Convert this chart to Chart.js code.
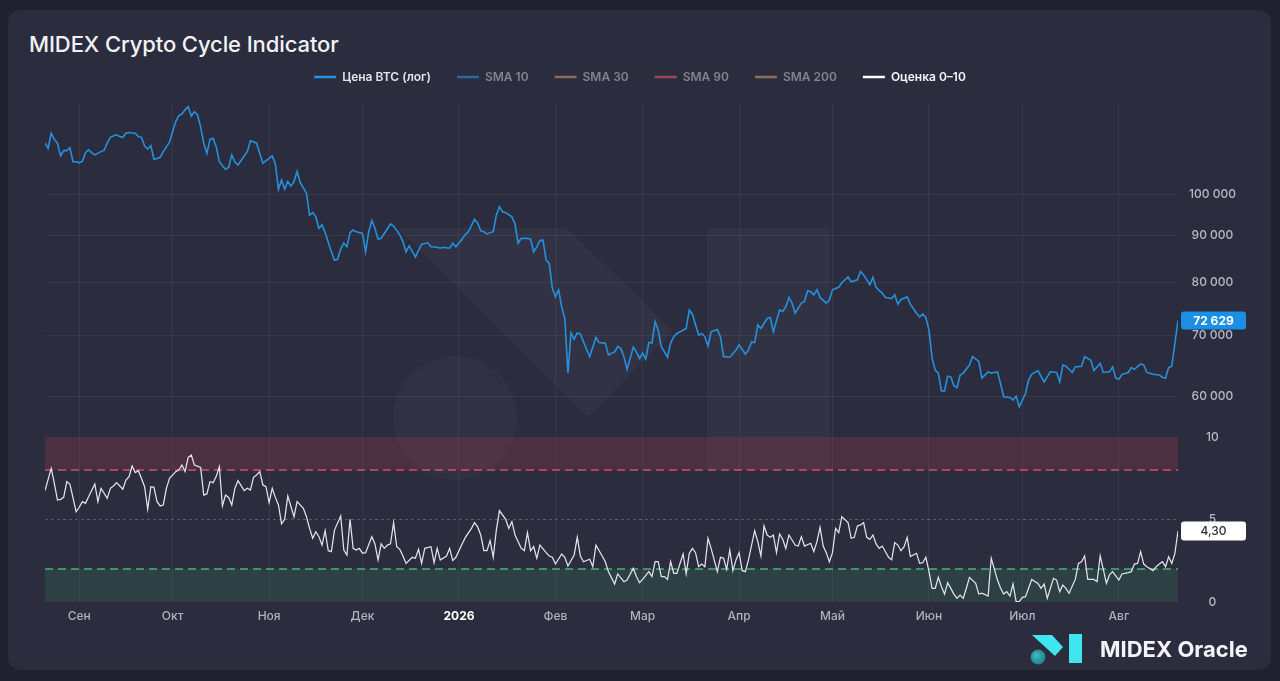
<!DOCTYPE html>
<html>
<head>
<meta charset="utf-8">
<script src="https://cdn.jsdelivr.net/npm/chart.js@4.4.1/dist/chart.umd.min.js"></script>
<style>
  html, body { margin:0; padding:0; width:1280px; height:681px; overflow:hidden; background:#1f212e; font-family: Inter, "Noto Sans", sans-serif; }
  #card { position:absolute; left:8px; top:10px; width:1263px; height:660px; border-radius:12px; background:#2b2d3e; }
  #title { position:absolute; left:29px; top:29px; font-size:22px; font-weight:500; color:#f1f2f6; line-height:30px; letter-spacing:-0.1px; }
  #brand { position:absolute; left:1100px; top:634px; font-size:22px; font-weight:700; color:#f3f4f7; line-height:30px; }
  canvas { position:absolute; left:0; top:0; }
</style>
</head>
<body>
<div id="card"></div>
<div id="title">MIDEX Crypto Cycle Indicator</div>
<canvas id="c" width="1280" height="681" style="width:1280px;height:681px"></canvas>
<div id="brand">MIDEX Oracle</div>
<script>
// ---------- DATA ----------
const startDate = '2025-08-21'; // day 0
const monthTickDays   = [11, 41, 72, 102, 133, 164, 192, 223, 253, 284, 314, 345];
const monthTickLabels = ['Сен', 'Окт', 'Ноя', 'Дек', '2026', 'Фев', 'Мар', 'Апр', 'Май', 'Июн', 'Июл', 'Авг'];
const priceTicks = [60000, 70000, 80000, 90000, 100000];
const scoreTicks = [0, 5, 10];
const highZone = [8, 10];
const lowZone = [0, 2];
const midLevel = 5;
const legendNames = ['Цена BTC (лог)', 'SMA 10', 'SMA 30', 'SMA 90', 'SMA 200', 'Оценка 0–10'];

const priceDays = [
  0,1,2,3,4,5,6,7,8,9,10,11,12,13,14,15,16,18,19,20,
  21,23,24,25,26,27,29,30,31,32,33,34,35,36,37,38,40,41,42,43,
  44,45,46,47,48,49,50,51,52,53,54,55,56,58,59,60,61,62,64,65,
  66,68,69,70,72,73,74,75,76,77,78,79,80,81,82,84,85,86,87,88,
  89,90,92,93,94,95,96,97,98,99,100,102,103,104,105,106,107,108,109,111,
  112,114,115,116,117,119,121,123,124,126,127,128,130,131,132,134,135,136,138,139,
  140,141,142,144,145,146,147,148,150,151,152,153,155,156,157,158,159,160,161,162,
  163,164,165,166,167,168,169,170,171,172,174,175,177,178,180,181,183,184,185,186,
  187,189,190,191,192,193,194,195,196,197,198,200,201,202,203,206,207,208,210,211,
  212,213,214,216,217,218,220,222,223,225,226,227,228,229,230,232,233,234,236,237,
  238,239,240,241,243,244,245,246,247,248,249,251,252,253,255,256,258,259,261,262,
  263,265,266,267,269,270,272,273,274,275,277,278,280,281,282,283,284,285,286,287,
  288,289,290,291,292,293,294,295,297,298,300,301,303,304,306,307,308,310,311,312,
  313,315,316,317,319,321,323,325,326,327,328,330,331,333,334,336,337,339,340,342,
  343,344,345,346,348,349,350,352,353,354,356,358,359,360,361,362,364
];
const priceValues = [
  113800,112200,116600,114800,113700,110100,111600,111600,112400,108500,108500,108200,108600,111000,111800,111000,110400,111300,111700,113800,
  115400,116200,115600,115400,116600,116800,116600,115600,115400,112900,112000,113000,109200,109400,109700,111300,114000,117100,120100,121900,
  122400,123700,124700,121800,123100,122100,118500,113700,110800,114800,115100,112700,108500,106400,107000,110400,108500,107600,110100,111300,
  114400,113700,110800,108100,109400,110100,107900,101200,103600,101200,103200,102000,103200,105900,102900,100200,94800,95400,94400,91700,
  92500,90700,86400,84600,84800,87000,88300,87500,90700,91300,90900,90500,86400,90900,93500,91700,89200,89400,90500,92700,
  92200,90200,88600,86400,87700,85300,88100,88400,87500,87400,87200,87400,87200,88300,87500,89200,90200,90900,93800,92900,
  91100,90900,90400,90900,94800,96800,95600,95400,94400,92700,88300,89400,89400,89200,86400,87500,88900,89000,84600,83900,
  78800,77100,78500,75200,73000,63600,70400,69300,70400,70200,67500,66300,69600,68700,68600,66600,67100,68000,67700,66300,
  64200,67900,67100,66000,66900,65900,68700,68600,72400,70900,68000,66200,68600,69700,70300,71200,74600,73800,70000,70300,
  69700,68100,70600,71000,69700,66300,66200,67400,68300,66700,67400,68800,68700,71800,71200,73000,73200,70600,74600,74300,
  75200,77000,75900,74000,75900,76200,78300,78100,77500,78500,77000,75900,76500,78500,79000,79900,81100,80100,80500,82200,
  81500,79500,81000,79000,77800,77000,76800,77500,75700,76600,77100,75700,74000,73300,73800,73200,70900,66000,64100,63600,
  60800,60800,63100,63000,61600,61300,63300,63600,64900,66300,65500,62800,63800,63600,63800,61900,59900,59800,59400,60000,
  58400,60400,62500,63400,64000,62200,63800,63700,62200,64900,64700,63700,64600,64700,66300,65700,64000,65200,63700,63800,
  64600,62800,62600,63400,63700,64500,64200,65100,64900,63700,63400,63300,62900,62800,64500,64700,72629
];

const scoreDays = [
  0,2,3,4,5,6,7,8,10,11,12,13,14,16,17,18,20,21,22,23,
  25,26,27,28,29,30,31,32,33,34,35,36,37,38,39,40,42,43,44,45,
  46,47,48,50,51,52,53,54,55,56,57,58,59,60,61,62,64,65,66,67,
  68,69,70,71,72,73,74,75,76,77,78,80,81,83,84,85,86,87,88,89,
  90,91,92,93,95,96,97,98,99,100,101,102,103,105,106,107,108,109,110,111,
  112,113,114,115,116,118,119,120,121,122,124,125,126,127,129,130,131,132,134,135,
  137,138,139,140,141,142,143,144,145,146,148,149,150,151,153,154,155,156,157,158,
  159,161,162,163,164,166,167,168,170,171,172,173,175,176,177,179,180,181,183,184,
  186,187,189,190,191,192,194,195,196,197,198,199,200,201,202,203,205,206,207,208,
  209,210,211,212,213,214,216,217,218,219,220,221,222,223,224,225,226,228,229,230,
  231,232,233,234,235,236,237,238,239,241,242,243,244,246,247,248,249,250,251,252,
  253,254,255,256,258,259,260,261,262,263,264,265,266,267,268,269,271,272,273,274,
  275,276,277,278,280,281,282,283,284,285,286,287,288,289,290,292,293,294,295,296,
  297,299,300,301,303,304,306,307,308,309,310,311,312,313,314,315,316,317,319,320,
  321,322,323,324,325,326,327,328,329,331,332,333,334,335,337,338,339,340,341,342,
  343,345,346,348,349,350,351,352,353,354,356,357,358,359,360,361,362,363,364
];
const scoreValues = [
  6.75,8.10,7.19,6.18,6.22,6.34,7.29,7.15,5.47,5.74,6.08,5.98,6.38,7.15,6.08,6.89,6.28,6.89,7.03,7.23,
  6.83,7.39,7.60,8.24,7.84,7.96,7.49,6.99,5.62,6.99,6.95,6.08,5.82,5.88,6.89,7.49,7.90,8.00,8.30,7.90,
  8.77,8.91,8.30,8.16,6.48,6.55,7.29,7.23,7.60,8.20,5.82,6.48,6.34,5.88,6.89,7.35,6.75,6.89,6.79,7.56,
  7.70,7.90,7.09,6.99,6.02,6.89,6.34,5.88,4.73,5.01,6.42,5.17,6.08,5.68,5.17,4.46,3.86,4.26,3.96,3.45,
  4.32,3.11,3.05,4.36,5.21,3.15,2.85,5.01,3.25,3.15,3.25,2.95,2.99,3.96,3.52,2.55,3.52,3.25,3.45,3.52,
  4.81,3.35,3.19,2.79,2.34,2.71,2.65,3.19,2.34,3.25,3.35,2.38,3.25,2.55,2.79,3.25,2.51,2.71,3.52,3.90,
  4.46,4.81,4.55,4.06,3.11,3.11,3.72,2.71,4.36,5.54,5.01,4.46,4.87,4.06,3.25,3.11,4.20,3.11,3.35,2.65,
  3.45,2.99,2.79,2.71,2.30,2.91,2.71,2.18,2.85,3.92,2.79,2.44,2.59,2.14,3.45,2.79,2.44,1.84,1.09,1.70,
  1.23,1.33,2.04,1.54,1.17,1.37,1.84,1.54,2.44,2.44,1.54,1.54,1.37,2.44,1.74,1.74,2.91,1.70,2.95,3.25,
  2.99,2.14,2.30,2.14,3.86,3.25,1.84,2.71,2.65,1.98,3.15,1.90,2.55,2.99,1.90,1.84,2.55,4.32,3.66,2.79,
  4.61,4.06,3.92,4.06,2.99,4.12,3.80,3.25,4.06,3.45,3.39,3.96,3.39,3.56,3.05,3.66,4.53,3.39,2.99,2.44,
  2.99,4.46,4.20,5.17,4.81,3.86,3.92,4.61,4.67,4.81,3.92,3.80,4.06,3.52,3.25,3.39,2.71,2.55,3.60,3.45,
  3.11,3.35,3.92,2.75,2.95,2.34,2.38,2.71,1.84,0.83,0.83,1.49,0.93,0.48,1.17,0.48,0.22,0.42,0.22,0.83,
  1.49,1.13,0.48,0.53,0.36,2.65,1.33,0.83,0.48,0.63,0.36,1.09,0.02,0.02,0.28,0.32,0.83,1.37,1.13,0.83,
  1.09,0.22,0.83,1.43,1.33,0.63,1.03,0.83,0.53,1.37,2.34,2.44,2.79,1.37,1.37,1.23,2.79,1.98,1.13,1.64,
  1.84,1.33,1.70,1.78,1.84,2.30,2.34,3.05,2.30,2.14,1.90,2.14,2.30,2.44,2.14,2.75,2.34,2.95,4.30
];

// ---------- HELPERS ----------
const xy = (days, vals) => days.map((d, i) => ({ x: d, y: vals[i] }));
const firstDay = priceDays[0];
const lastDay = priceDays[priceDays.length - 1];
const flat = v => [{ x: firstDay, y: v }, { x: lastDay, y: v }];
const fmtThousands = v => String(Math.round(v)).replace(/\B(?=(\d{3})+(?!\d))/g, ' ');
const lastPrice = priceValues[priceValues.length - 1];
const lastScore = scoreValues[scoreValues.length - 1];

Chart.defaults.font.family = 'Inter, "Noto Sans", sans-serif';
Chart.defaults.animation = false;

function roundRect(ctx, x, y, w, h, r) {
  ctx.beginPath();
  ctx.moveTo(x + r, y);
  ctx.lineTo(x + w - r, y);
  ctx.quadraticCurveTo(x + w, y, x + w, y + r);
  ctx.lineTo(x + w, y + h - r);
  ctx.quadraticCurveTo(x + w, y + h, x + w - r, y + h);
  ctx.lineTo(x + r, y + h);
  ctx.quadraticCurveTo(x, y + h, x, y + h - r);
  ctx.lineTo(x, y + r);
  ctx.quadraticCurveTo(x, y, x + r, y);
  ctx.closePath();
}

// Let the score axis share the price axis box (both sit on the right side)
const shareRightAxis = {
  id: 'shareRightAxis',
  afterLayout(chart) {
    const s = chart.scales.yScore, p = chart.scales.yPrice;
    s.left = p.left; s.right = p.right; s.width = p.width;
  }
};

// Background watermark logo
const watermark = {
  id: 'watermark',
  beforeDatasetsDraw(chart) {
    const ctx = chart.ctx;
    ctx.save();
    ctx.fillStyle = 'rgba(255,255,255,0.032)';
    ctx.beginPath();
    ctx.moveTo(398, 228); ctx.lineTo(567, 228); ctx.lineTo(673, 331); ctx.lineTo(588, 417); ctx.closePath();
    ctx.fill();
    ctx.fillRect(707, 228, 123, 242);
    ctx.fillStyle = 'rgba(255,255,255,0.028)';
    ctx.beginPath(); ctx.arc(455, 418, 62, 0, Math.PI * 2); ctx.fill();
    ctx.restore();
  }
};

// Last value badges and brand logo
const overlays = {
  id: 'overlays',
  afterDraw(chart) {
    const ctx = chart.ctx;
    const ca = chart.chartArea;
    const yp = chart.scales.yPrice.getPixelForValue(lastPrice);
    const ys = chart.scales.yScore.getPixelForValue(lastScore);
    const bx = ca.right + 3, bw = 65;
    ctx.save();
    roundRect(ctx, bx, yp - 9, bw, 18, 3);
    ctx.fillStyle = '#1b8fe6'; ctx.fill();
    ctx.fillStyle = '#ffffff';
    ctx.font = '700 12px Inter, "Noto Sans", sans-serif';
    ctx.textAlign = 'center'; ctx.textBaseline = 'middle';
    ctx.fillText(fmtThousands(lastPrice), bx + bw / 2, yp + 0.5);
    roundRect(ctx, bx, ys - 9.5, bw, 19, 3);
    ctx.fillStyle = '#ffffff'; ctx.fill();
    ctx.fillStyle = '#2b2d3e';
    ctx.font = '500 12px Inter, "Noto Sans", sans-serif';
    ctx.fillText(lastScore.toFixed(2).replace('.', ','), bx + bw / 2, ys + 0.5);

    // brand logo (cyan mark)
    ctx.fillStyle = '#3fe6ef';
    ctx.beginPath();
    ctx.moveTo(1032, 635); ctx.lineTo(1052, 635); ctx.lineTo(1063, 647); ctx.lineTo(1055, 656); ctx.closePath();
    ctx.fill();
    ctx.fillRect(1069, 634, 13, 29);
    const g = ctx.createRadialGradient(1036, 655, 1, 1038, 657, 8);
    g.addColorStop(0, '#3fb6bf'); g.addColorStop(1, '#1f7f8a');
    ctx.fillStyle = g;
    ctx.beginPath(); ctx.arc(1038, 657, 7.5, 0, Math.PI * 2); ctx.fill();
    ctx.restore();
  }
};

const tickColor = '#b6b9c6';

new Chart(document.getElementById('c'), {
  type: 'line',
  data: {
    datasets: [
      { label: legendNames[0], data: xy(priceDays, priceValues), xAxisID: 'x', yAxisID: 'yPrice',
        borderColor: '#2590de', borderWidth: 1.6, pointRadius: 0, tension: 0, order: 1,
        legendColor: '#2196e6', legendText: '#e3e4ea' },
      { label: legendNames[1], data: [], xAxisID: 'x', yAxisID: 'yPrice', hidden: true,
        borderColor: '#2c6aa6', legendColor: '#2c6aa6', legendText: '#80838f' },
      { label: legendNames[2], data: [], xAxisID: 'x', yAxisID: 'yPrice', hidden: true,
        borderColor: '#8a6c5c', legendColor: '#8a6c5c', legendText: '#80838f' },
      { label: legendNames[3], data: [], xAxisID: 'x', yAxisID: 'yPrice', hidden: true,
        borderColor: '#9a4657', legendColor: '#9a4657', legendText: '#80838f' },
      { label: legendNames[4], data: [], xAxisID: 'x', yAxisID: 'yPrice', hidden: true,
        borderColor: '#8c705d', legendColor: '#8c705d', legendText: '#80838f' },
      { label: legendNames[5], data: xy(scoreDays, scoreValues), xAxisID: 'x', yAxisID: 'yScore',
        borderColor: 'rgba(236,237,243,0.95)', borderWidth: 1.25, pointRadius: 0, tension: 0, order: 0,
        legendColor: '#ffffff', legendText: '#f3f4f7' },
      // zones
      { label: 'high zone', data: flat(highZone[1]), xAxisID: 'x', yAxisID: 'yScore',
        borderWidth: 0, pointRadius: 0, fill: { value: highZone[0] }, backgroundColor: 'rgba(200,60,80,0.2)', order: 9 },
      { label: 'high line', data: flat(highZone[0]), xAxisID: 'x', yAxisID: 'yScore',
        borderColor: 'rgba(228,86,98,0.9)', borderWidth: 1.3, borderDash: [8, 5], pointRadius: 0, fill: false, order: 8 },
      { label: 'mid line', data: flat(midLevel), xAxisID: 'x', yAxisID: 'yScore',
        borderColor: 'rgba(255,255,255,0.22)', borderWidth: 1, borderDash: [3, 3], pointRadius: 0, fill: false, order: 8 },
      { label: 'low zone', data: flat(lowZone[1]), xAxisID: 'x', yAxisID: 'yScore',
        borderColor: 'rgba(70,196,112,0.9)', borderWidth: 1.3, borderDash: [8, 5], pointRadius: 0,
        fill: { value: lowZone[0] }, backgroundColor: 'rgba(60,150,95,0.19)', order: 9 }
    ]
  },
  options: {
    responsive: false,
    animation: false,
    layout: { padding: { top: 45, left: 29, right: 29, bottom: 55 } },
    plugins: {
      tooltip: { enabled: false },
      title: { display: false },
      legend: {
        display: true, position: 'top', align: 'center',
        onClick: () => {},
        labels: {
          font: { size: 12, weight: '600' },
          color: '#e3e4ea',
          padding: 26,
          usePointStyle: true,
          pointStyleWidth: 22,
          generateLabels: chart => chart.data.datasets
            .map((ds, i) => ({ ds, i }))
            .filter(o => o.ds.legendColor)
            .map(({ ds, i }) => ({
              text: ds.label, fillStyle: ds.legendColor, strokeStyle: ds.legendColor,
              lineWidth: 2.5, pointStyle: 'line', hidden: false, fontColor: ds.legendText,
              datasetIndex: i
            }))
        }
      }
    },
    scales: {
      x: {
        type: 'linear', position: 'bottom', bounds: 'data', min: firstDay, max: lastDay,
        afterBuildTicks: s => { s.ticks = monthTickDays.map(v => ({ value: v })); },
        afterFit: s => { s.height = 24; },
        ticks: {
          autoSkip: false, maxRotation: 0, padding: 7,
          callback: (v, i) => monthTickLabels[i],
          color: c => monthTickLabels[c.index] === '2026' ? '#ffffff' : '#aeb2bf',
          font: c => ({ size: 12, weight: monthTickLabels[c.index] === '2026' ? '700' : '500' })
        },
        grid: { color: 'rgba(255,255,255,0.055)', drawTicks: false },
        border: { display: false }
      },
      xPad: {
        type: 'linear', position: 'top', display: true,
        ticks: { display: false }, grid: { display: false, drawTicks: false }, border: { display: false },
        afterFit: s => { s.height = 10; }
      },
      yPad: {
        type: 'linear', position: 'left', display: true,
        ticks: { display: false }, grid: { display: false, drawTicks: false }, border: { display: false },
        afterFit: s => { s.width = 16; }
      },
      yScore: {
        type: 'linear', position: 'right', weight: 0, bounds: 'data', min: 0, max: 30.24,
        afterBuildTicks: s => { s.ticks = scoreTicks.map(v => ({ value: v })); },
        afterFit: s => { s.width = 0; },
        ticks: { padding: 28, crossAlign: 'center', autoSkip: false, color: tickColor, font: { size: 12, weight: '500' }, callback: v => String(v) },
        grid: { display: false, drawTicks: false },
        border: { display: false }
      },
      yPrice: {
        type: 'logarithmic', position: 'right', weight: 1, bounds: 'data', min: 35660, max: 125860,
        afterBuildTicks: s => { s.ticks = priceTicks.map(v => ({ value: v })); },
        afterFit: s => { s.width = 73; },
        ticks: { padding: 11, crossAlign: 'center', autoSkip: false, color: tickColor, font: { size: 12, weight: '500' }, callback: v => fmtThousands(v) },
        grid: { color: 'rgba(255,255,255,0.06)', drawTicks: false },
        border: { display: false }
      }
    }
  },
  plugins: [shareRightAxis, watermark, overlays]
});
</script>
</body>
</html>
